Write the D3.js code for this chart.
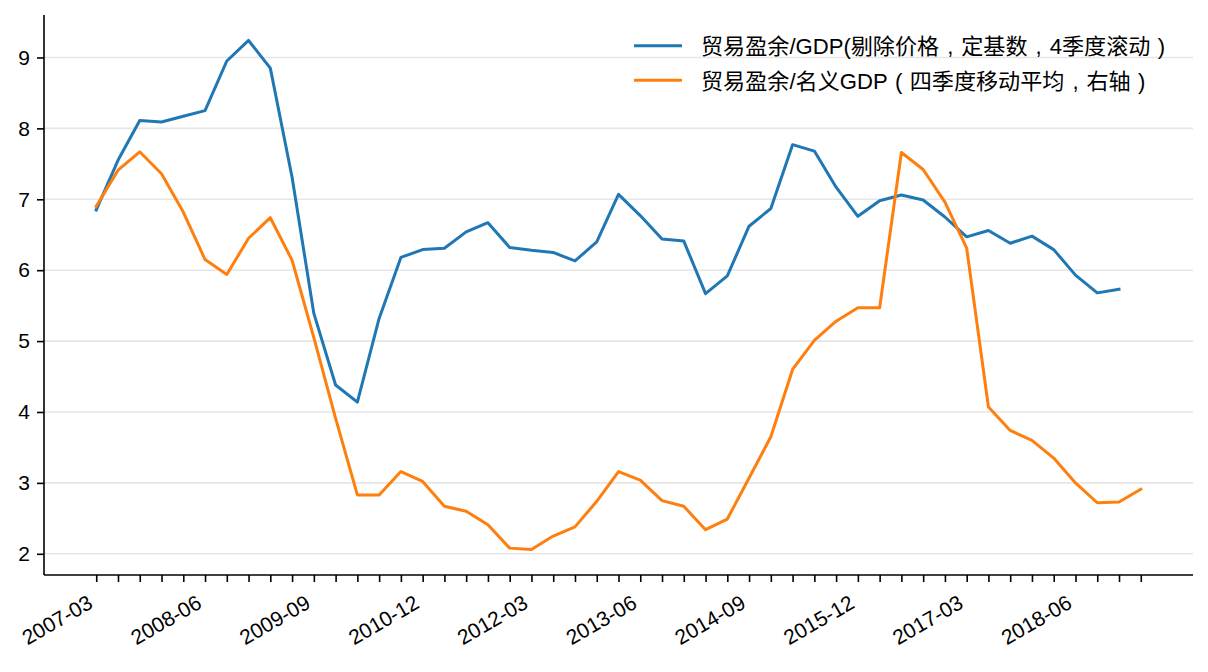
<!DOCTYPE html>
<html>
<head>
<meta charset="utf-8">
<script src="https://cdn.jsdelivr.net/npm/d3@7"></script>
<style>
  html, body { margin: 0; padding: 0; background: #fff; }
  svg { display: block; }
  text { font-family: "Liberation Sans", Arial, "Noto Sans CJK SC", sans-serif; fill: #000; }
</style>
</head>
<body>
<svg id="chart" width="1208" height="672"></svg>
<script>
// ---- data ----
const quarters = (function () {
  const out = [];
  for (let y = 2007; y <= 2019; y++) {
    for (const m of ["03", "06", "09", "12"]) {
      out.push(y + "-" + m);
      if (y === 2019) return out;
    }
  }
  return out;
})();

const realTradeSurplus = [6.85,7.55,8.11,8.09,8.17,8.25,8.95,9.24,8.85,7.31,
  5.39,4.38,4.14,5.32,6.18,6.29,6.31,6.54,6.67,6.32,
  6.28,6.25,6.13,6.40,7.07,6.77,6.44,6.41,5.67,5.92,
  6.62,6.87,7.77,7.68,7.17,6.76,6.98,7.06,6.99,6.75,
  6.47,6.56,6.38,6.48,6.29,5.93,5.68,5.73];

const nominalTradeSurplus = [6.90,7.41,7.67,7.36,6.82,6.15,5.94,6.45,6.74,6.14,
  5.05,3.91,2.83,2.83,3.16,3.02,2.67,2.60,2.41,2.08,
  2.06,2.25,2.38,2.74,3.16,3.04,2.75,2.67,2.34,2.49,
  3.07,3.65,4.60,5.01,5.28,5.47,5.47,7.66,7.42,6.96,
  6.31,4.07,3.74,3.60,3.35,3.00,2.72,2.73,2.91];

const yTicks = [2, 3, 4, 5, 6, 7, 8, 9];
const labelEvery = 5;

const seriesNames = [
  "贸易盈余/GDP(剔除价格，定基数，4季度滚动）",
  "贸易盈余/名义GDP（四季度移动平均，右轴）"
];
const seriesColors = ["#1f77b4", "#ff7f0e"];

// ---- layout ----
const W = 1208, H = 672;
const plot = { left: 44, right: 1193, top: 15, bottom: 575 };

const svg = d3.select("#chart");
svg.append("rect").attr("width", W).attr("height", H).attr("fill", "#fff");

const n = quarters.length;
const xPad = (n - 1) * 0.05;
const x = d3.scaleLinear().domain([-xPad, n - 1 + xPad]).range([plot.left, plot.right]);

const allVals = realTradeSurplus.concat(nominalTradeSurplus);
const yMin = d3.min(allVals), yMax = d3.max(allVals);
const yPad = (yMax - yMin) * 0.05;
const y = d3.scaleLinear().domain([yMin - yPad, yMax + yPad]).range([plot.bottom, plot.top]);

// grid
svg.append("g").selectAll("line").data(yTicks).join("line")
  .attr("x1", plot.left).attr("x2", plot.right)
  .attr("y1", d => y(d)).attr("y2", d => y(d))
  .attr("stroke", "#e6e6e6").attr("stroke-width", 1.6);

// lines
const line = d3.line().x((d, i) => x(i)).y(d => y(d));
[realTradeSurplus, nominalTradeSurplus].forEach((s, k) => {
  svg.append("path").datum(s)
    .attr("d", line)
    .attr("fill", "none")
    .attr("stroke", seriesColors[k])
    .attr("stroke-width", 3)
    .attr("stroke-linejoin", "round")
    .attr("stroke-linecap", "square");
});

// y axis
const yAxis = d3.axisLeft(y).tickValues(yTicks).tickSize(7).tickPadding(7).tickFormat(d3.format("d"));
const gy = svg.append("g").attr("transform", `translate(${plot.left},0)`).call(yAxis);
gy.select(".domain").attr("d", `M0,${plot.top}V${plot.bottom}`).attr("stroke", "#000").attr("stroke-width", 1.6);
gy.selectAll(".tick line").attr("stroke", "#000").attr("stroke-width", 1.6);
gy.selectAll(".tick text").attr("font-size", 21).attr("font-family", "Liberation Sans, Arial, sans-serif").attr("fill", "#000");

// x axis
const xAxis = d3.axisBottom(x).tickValues(d3.range(n)).tickSize(7).tickFormat(() => "");
const gx = svg.append("g").attr("transform", `translate(0,${plot.bottom})`).call(xAxis);
gx.select(".domain").attr("d", `M${plot.left},0H${plot.right}`).attr("stroke", "#000").attr("stroke-width", 1.6);
gx.selectAll(".tick line").attr("stroke", "#000").attr("stroke-width", 1.6);

const labelIdx = d3.range(0, n, labelEvery);
svg.append("g").selectAll("text").data(labelIdx).join("text")
  .attr("transform", d => `translate(${x(d) - 2},${plot.bottom + 32}) rotate(-30)`)
  .attr("text-anchor", "end")
  .attr("font-size", 21)
  .text(d => quarters[d]);

// legend
const legend = svg.append("g");
const legY = [45.7, 80.3];
const legendFont = 22.1;
// full-width punctuation drawn centred in its em box (as in the reference font)
const centredPunct = { "，": [",", 0.278], "（": ["(", 0.333], "）": [")", 0.333] };
const isWide = ch => /[\u3000-\u9fff\uff00-\uffef]/.test(ch);
function segments(str) {
  const segs = [];
  let pendingDx = 0;
  for (const ch of str) {
    if (centredPunct[ch]) {
      const [c, w] = centredPunct[ch];
      const pad = (1 - w) / 2 * legendFont;
      segs.push({ font: "Liberation Sans", t: c, dx: pendingDx + pad, punct: true });
      pendingDx = pad;
      continue;
    }
    const font = isWide(ch) ? "Noto Sans CJK SC" : "Liberation Sans";
    const last = segs[segs.length - 1];
    if (last && !last.punct && last.font === font && pendingDx === 0) last.t += ch;
    else segs.push({ font, t: ch, dx: pendingDx, punct: false });
    pendingDx = 0;
  }
  return segs;
}
seriesNames.forEach((name, k) => {
  legend.append("line")
    .attr("x1", 634).attr("x2", 682)
    .attr("y1", legY[k]).attr("y2", legY[k])
    .attr("stroke", seriesColors[k]).attr("stroke-width", 3);
  const t = legend.append("text")
    .attr("x", 701).attr("y", legY[k] + 8.5)
    .attr("font-size", legendFont);
  segments(name).forEach(s => {
    t.append("tspan")
      .attr("font-family", s.font)
      .attr("dx", s.dx || null)
      .text(s.t);
  });
});
</script>
</body>
</html>
